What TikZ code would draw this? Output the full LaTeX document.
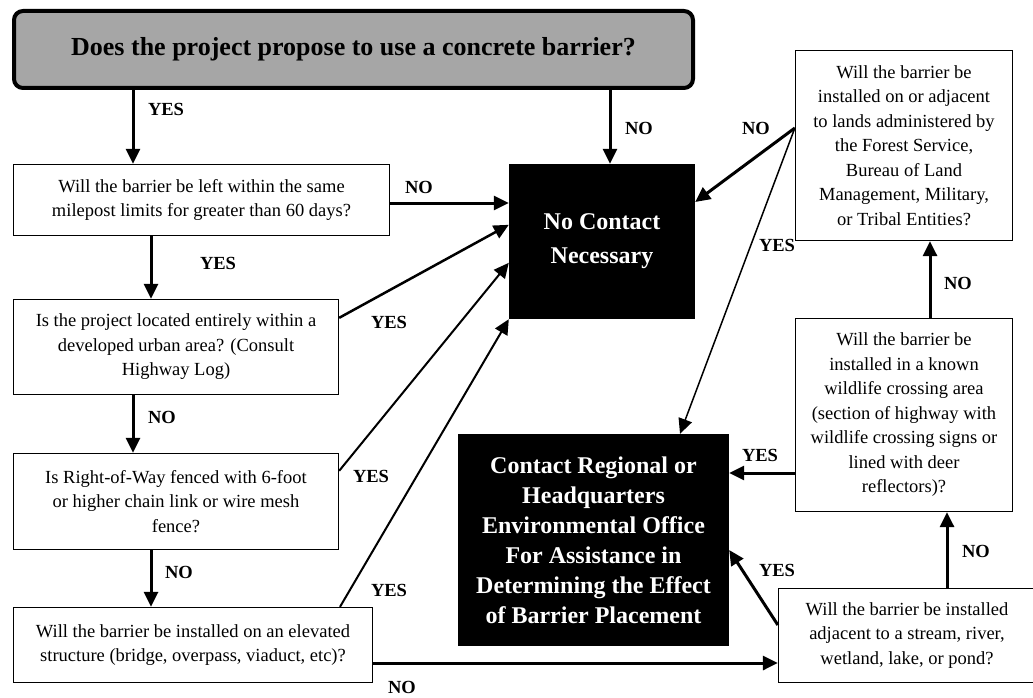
\documentclass[tikz,border=0pt]{standalone}
\usepackage{fontspec}
\setmainfont{Liberation Serif}
\usetikzlibrary{arrows.meta}
\definecolor{gris}{RGB}{166,166,166}

\begin{document}
\begin{tikzpicture}[x=1pt,y=-1pt,
    question/.style={draw,line width=1.3pt,fill=white,align=center,inner sep=2pt,
        font=\fontsize{18.5}{24.5}\selectfont},
    resultat/.style={fill=black,text=white,align=center,inner sep=2pt},
    reponse/.style={font=\bfseries\fontsize{18.5}{20}\selectfont,inner sep=0pt},
    fleche/.style={line width=3pt,-{Triangle[length=15pt,width=14pt]}},
    fine/.style={line width=2pt,-{Triangle[length=15pt,width=14pt]}}]
    \useasboundingbox (0,0) rectangle (1033,698);

    % Question de depart
    \node[draw,line width=4pt,rounded corners=9pt,fill=gris,minimum width=679pt,minimum height=77pt,
        font=\bfseries\fontsize{26}{30}\selectfont] (titre) at (353.5,49.5)
        {Does the project propose to use a concrete barrier?};

    % Questions de gauche
    \node[question,minimum width=376pt,minimum height=71pt] (q1) at (201.5,200)
        {Will the barrier be left within the same\\milepost limits for greater than 60 days?};
    \node[question,minimum width=325pt,minimum height=95pt] (q2) at (176,347)
        {Is the project located entirely within a\\developed urban area? (Consult\\Highway Log)};
    \node[question,minimum width=325pt,minimum height=96pt] (q3) at (176,501.5)
        {Is Right-of-Way fenced with 6-foot\\or higher chain link or wire mesh\\fence?};
    \node[question,minimum width=359pt,minimum height=75pt] (q4) at (193,645)
        {Will the barrier be installed on an elevated\\structure (bridge, overpass, viaduct, etc)?};

    % Questions de droite
    \node[question,minimum width=217pt,minimum height=190pt] (r1) at (904,145.5)
        {Will the barrier be\\installed on or adjacent\\to lands administered by\\the Forest Service,\\Bureau of Land\\Management, Military,\\or Tribal Entities?};
    \node[question,minimum width=217pt,minimum height=193pt] (r2) at (904,415)
        {Will the barrier be\\installed in a known\\wildlife crossing area\\(section of highway with\\wildlife crossing signs or\\lined with deer\\reflectors)?};
    \node[question,minimum width=257pt,minimum height=94pt] (r3) at (907,635.5)
        {Will the barrier be installed\\adjacent to a stream, river,\\wetland, lake, or pond?};

    % Resultats
    \node[resultat,minimum width=186pt,minimum height=155pt,
        font=\bfseries\fontsize{24}{34}\selectfont] (nc) at (602,241.5) {No Contact\\Necessary};
    \node[resultat,minimum width=271pt,minimum height=212pt,
        font=\bfseries\fontsize{24}{30}\selectfont] (ct) at (593.5,540)
        {Contact Regional or\\Headquarters\\Environmental Office\\For Assistance in\\Determining the Effect\\of Barrier Placement};

    % Fleches verticales
    \draw[fleche] ([xshift=-220.5pt]titre.south) -- ([xshift=-68.5pt]q1.north);
    \draw[fleche] ([xshift=256.5pt]titre.south) -- ([xshift=8pt]nc.north);
    \draw[fleche] ([xshift=-50.5pt]q1.south) -- ([xshift=-25pt]q2.north);
    \draw[fleche] ([xshift=-43pt]q2.south) -- ([xshift=-43pt]q3.north);
    \draw[fleche] ([xshift=-25pt]q3.south) -- ([xshift=-42pt]q4.north);
    \draw[fleche] ([xshift=40pt]r3.north) -- ([xshift=43pt]r2.south);
    \draw[fleche] ([xshift=26pt]r2.north) -- ([xshift=26pt]r1.south);

    % Fleches vers No Contact
    \draw[fleche] ([yshift=-3pt]q1.east) -- ([yshift=38.5pt]nc.west);
    \draw[fleche,line width=2.5pt] ([yshift=-19pt]q2.north east) -- ([yshift=-61pt]nc.north west);
    \draw[fine] ([yshift=-18pt]q3.north east) -- ([yshift=-99pt]nc.north west);
    \draw[fine] ([xshift=147pt]q4.north) -- (nc.south west);
    \draw[fleche] ([yshift=17.5pt]r1.west) -- ([yshift=39.5pt]nc.east);

    % Fleches vers Contact
    \draw[fine,line width=1.5pt] ([yshift=17.5pt]r1.west) -- ([xshift=86.5pt]ct.north);
    \draw[fleche] ([yshift=-58pt]r2.west) -- ([yshift=67pt]ct.east);
    \draw[fleche] ([yshift=10.5pt]r3.west) -- ([yshift=-10pt]ct.east);
    \draw[fleche] ([yshift=-18pt]q4.east) -- ([yshift=-27.5pt]r3.west);

    % Etiquettes
    \node[reponse] (yes1) at (166,109) {YES};
    \node[reponse] (no1) at (639,128) {NO};
    \node[reponse] (no2) at (419,187) {NO};
    \node[reponse] (yes2) at (218,263) {YES};
    \node[reponse] (yes3) at (389,322) {YES};
    \node[reponse] (no3) at (162,417) {NO};
    \node[reponse] (yes4) at (371,476) {YES};
    \node[reponse] (no4) at (179,572) {NO};
    \node[reponse] (yes5) at (389,590) {YES};
    \node[reponse] (no5) at (402,687) {NO};
    \node[reponse] (no6) at (756,128) {NO};
    \node[reponse] (yes6) at (777,245) {YES};
    \node[reponse] (no7) at (958,283) {NO};
    \node[reponse] (yes7) at (760,455) {YES};
    \node[reponse] (yes8) at (777,570) {YES};
    \node[reponse] (no8) at (976,551) {NO};
\end{tikzpicture}
\end{document}
